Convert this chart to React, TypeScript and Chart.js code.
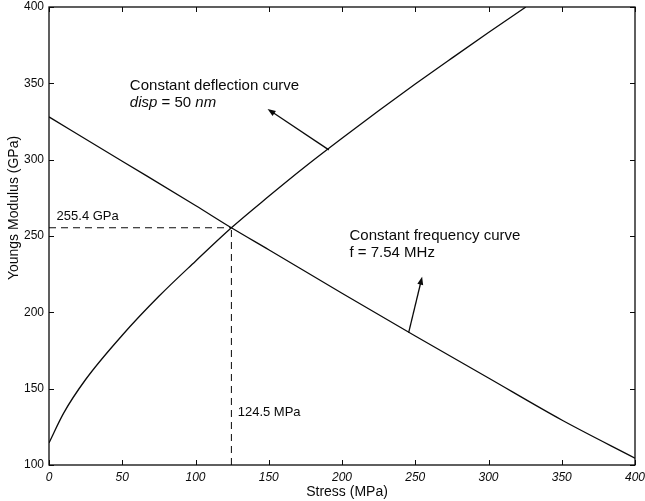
import React, { useEffect, useRef } from "react";
import { Chart, registerables } from "chart.js";

Chart.register(...registerables);

// Stress (MPa) values and Young's modulus (GPa) for the constant deflection curve
const deflStress = [0, 10, 25, 50, 75, 100, 124.5, 150, 175, 200, 225, 250, 275, 300, 325.5];
const deflModulus = [114.5, 134, 156, 185, 210.5, 233.5, 255.4, 276, 295.5, 314, 332, 349.5, 366.5, 383.3, 400];

// Constant frequency curve
const freqStress = [0, 50, 100, 124.5, 150, 200, 250, 300, 350, 400];
const freqModulus = [328, 299, 270, 255.4, 241, 212.5, 184.5, 157, 129.5, 104.5];

// Intersection point
const crossStress = 124.5;
const crossModulus = 255.4;

// Axis ticks
const xTickValues = [0, 50, 100, 150, 200, 250, 300, 350, 400];
const yTickValues = [100, 150, 200, 250, 300, 350, 400];

const FONT = '"Liberation Sans", Arial, Helvetica, sans-serif';
const INK = "#0a0a0a";

const overlay = {
  id: "overlay",
  afterDatasetsDraw(chart: any) {
    const { ctx, chartArea: a, scales } = chart;
    const x = scales.x;
    const y = scales.y;
    ctx.save();
    ctx.strokeStyle = INK;
    ctx.fillStyle = INK;
    ctx.lineWidth = 1.3;
    ctx.setLineDash([]);
    ctx.strokeRect(a.left, a.top, a.right - a.left, a.bottom - a.top);

    // inward tick marks on all four sides
    const TL = 5;
    ctx.lineWidth = 1;
    ctx.beginPath();
    xTickValues.forEach((v) => {
      const px = Math.round(x.getPixelForValue(v)) + 0.5;
      ctx.moveTo(px, a.bottom);
      ctx.lineTo(px, a.bottom - TL);
      ctx.moveTo(px, a.top);
      ctx.lineTo(px, a.top + TL);
    });
    yTickValues.forEach((v) => {
      const py = Math.round(y.getPixelForValue(v)) + 0.5;
      ctx.moveTo(a.left, py);
      ctx.lineTo(a.left + TL, py);
      ctx.moveTo(a.right, py);
      ctx.lineTo(a.right - TL, py);
    });
    ctx.stroke();

    // arrows
    const arrow = (x0: number, y0: number, x1: number, y1: number) => {
      const p0x = x.getPixelForValue(x0);
      const p0y = y.getPixelForValue(y0);
      const p1x = x.getPixelForValue(x1);
      const p1y = y.getPixelForValue(y1);
      const ang = Math.atan2(p1y - p0y, p1x - p0x);
      const hl = 8;
      const hw = 3;
      ctx.lineWidth = 1.3;
      ctx.beginPath();
      ctx.moveTo(p0x, p0y);
      ctx.lineTo(p1x - Math.cos(ang) * hl * 0.8, p1y - Math.sin(ang) * hl * 0.8);
      ctx.stroke();
      ctx.beginPath();
      ctx.moveTo(p1x, p1y);
      ctx.lineTo(
        p1x - Math.cos(ang) * hl + Math.sin(ang) * hw,
        p1y - Math.sin(ang) * hl - Math.cos(ang) * hw
      );
      ctx.lineTo(
        p1x - Math.cos(ang) * hl - Math.sin(ang) * hw,
        p1y - Math.sin(ang) * hl + Math.cos(ang) * hw
      );
      ctx.closePath();
      ctx.fill();
    };
    arrow(191, 306.4, 149.2, 333.2);
    arrow(245.5, 186.7, 254.7, 223.3);

    // texts
    ctx.textBaseline = "middle";
    ctx.textAlign = "left";
    const txt = (s: string, vx: number, vy: number, size: number, style = "normal") => {
      ctx.font = `${style} ${size}px ${FONT}`;
      ctx.fillText(s, x.getPixelForValue(vx), y.getPixelForValue(vy));
    };
    const runs = (parts: [string, string][], vx: number, vy: number, size: number) => {
      let px = x.getPixelForValue(vx);
      const py = y.getPixelForValue(vy);
      parts.forEach(([s, style]) => {
        ctx.font = `${style} ${size}px ${FONT}`;
        ctx.fillText(s, px, py);
        px += ctx.measureText(s).width;
      });
    };
    txt("Constant deflection curve", 55.2, 348.2, 15);
    runs(
      [
        ["disp", "italic"],
        [" = 50 ", "normal"],
        ["nm", "italic"],
      ],
      55.2,
      337,
      15
    );
    txt("Constant frequency curve", 205.1, 250, 15);
    txt("f = 7.54 MHz", 205.1, 238.9, 15);
    txt("255.4 GPa", 5.2, 262.6, 13);
    txt("124.5 MPa", 128.8, 134.3, 13);

    // axis titles
    ctx.textAlign = "center";
    ctx.font = `normal 14px ${FONT}`;
    ctx.fillText("Stress (MPa)", 347, 492);
    ctx.save();
    ctx.translate(14, 208);
    ctx.rotate(-Math.PI / 2);
    ctx.fillText("Youngs Modulus (GPa)", 0, 0);
    ctx.restore();

    ctx.restore();
  },
};

export default function App() {
  const ref = useRef<HTMLCanvasElement | null>(null);

  useEffect(() => {
    if (!ref.current) return;
    const toPts = (xs: number[], ys: number[]) => xs.map((v, i) => ({ x: v, y: ys[i] }));
    const chart = new Chart(ref.current, {
      type: "scatter",
      data: {
        datasets: [
          {
            data: toPts(deflStress, deflModulus),
            showLine: true,
            borderColor: INK,
            borderWidth: 1.3,
            pointRadius: 0,
            cubicInterpolationMode: "monotone",
          },
          {
            data: toPts(freqStress, freqModulus),
            showLine: true,
            borderColor: INK,
            borderWidth: 1.3,
            pointRadius: 0,
            cubicInterpolationMode: "monotone",
          },
          {
            data: [
              { x: 0, y: crossModulus },
              { x: crossStress, y: crossModulus },
            ],
            showLine: true,
            borderColor: INK,
            borderWidth: 1,
            borderDash: [7, 5],
            pointRadius: 0,
          },
          {
            data: [
              { x: crossStress, y: 100 },
              { x: crossStress, y: crossModulus },
            ],
            showLine: true,
            borderColor: INK,
            borderWidth: 1,
            borderDash: [7, 5],
            pointRadius: 0,
          },
        ],
      },
      options: {
        responsive: false,
        animation: false,
        events: [],
        layout: { padding: { left: 0, top: 7, right: 10, bottom: 0 } },
        plugins: {
          legend: { display: false },
          tooltip: { enabled: false },
        },
        scales: {
          x: {
            type: "linear",
            min: 0,
            max: 400,
            grid: { display: false, drawTicks: false },
            border: { display: false },
            ticks: {
              stepSize: 50,
              padding: 5,
              color: INK,
              font: { family: FONT, size: 12, style: "italic" },
              maxRotation: 0,
              autoSkip: false,
            },
            afterFit: (s: any) => {
              s.height = 36;
              s.paddingLeft = 0;
              s.paddingRight = 0;
            },
          },
          y: {
            type: "linear",
            min: 100,
            max: 400,
            grid: { display: false, drawTicks: false },
            border: { display: false },
            ticks: {
              stepSize: 50,
              padding: 5,
              color: INK,
              font: { family: FONT, size: 12 },
              autoSkip: false,
            },
            afterFit: (s: any) => {
              s.width = 49;
              s.paddingTop = 0;
              s.paddingBottom = 0;
            },
          },
        },
      } as any,
      plugins: [overlay],
    });
    return () => chart.destroy();
  }, []);

  return (
    <div style={{ position: "absolute", left: 0, top: 0, width: 645, height: 501, background: "#fff" }}>
      <canvas ref={ref} width={645} height={501} style={{ display: "block" }} />
    </div>
  );
}
